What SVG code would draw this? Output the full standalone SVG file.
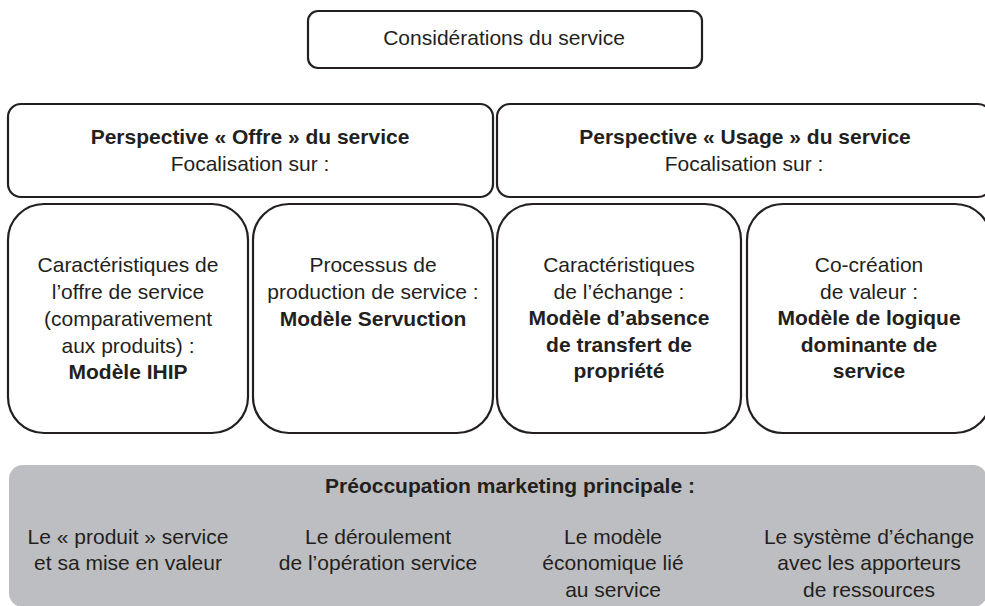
<svg xmlns="http://www.w3.org/2000/svg" width="985" height="606" viewBox="0 0 985 606">
<style>
.box{fill:#ffffff;stroke:#231f20;stroke-width:2.2}
.gray{fill:#bdbec1;stroke:none}
text{font-family:"Liberation Sans",Arial,Helvetica,sans-serif;font-size:21px;fill:#231f20;text-anchor:middle}
.b{font-weight:bold}
</style>
<rect width="985" height="606" fill="#ffffff"/>
<g id="considerations">
<rect class="box" x="308" y="11" width="394" height="57" rx="10"/>
<text x="504" y="45">Considérations du service</text>
</g>
<g id="perspective-offre">
<rect class="box" x="8" y="104" width="485" height="93" rx="13"/>
<text class="b" x="250" y="144">Perspective « Offre » du service</text>
<text x="250" y="171">Focalisation sur :</text>
</g>
<g id="perspective-usage">
<rect class="box" x="497" y="104" width="494" height="93" rx="13"/>
<text class="b" x="745" y="144">Perspective « Usage » du service</text>
<text x="744" y="171">Focalisation sur :</text>
</g>
<g id="modele-ihip">
<rect class="box" x="8" y="204" width="240" height="229" rx="36"/>
<text x="128" y="272">Caractéristiques de</text>
<text x="128" y="299">l’offre de service</text>
<text x="128" y="326">(comparativement</text>
<text x="128" y="353">aux produits) :</text>
<text class="b" x="128" y="379">Modèle IHIP</text>
</g>
<g id="modele-servuction">
<rect class="box" x="253" y="204" width="240" height="229" rx="36"/>
<text x="373" y="272">Processus de</text>
<text x="373" y="299">production de service :</text>
<text class="b" x="373" y="326">Modèle Servuction</text>
</g>
<g id="modele-absence-transfert">
<rect class="box" x="497" y="204" width="244" height="229" rx="36"/>
<text x="619" y="272">Caractéristiques</text>
<text x="619" y="299">de l’échange :</text>
<text class="b" x="619" y="325">Modèle d’absence</text>
<text class="b" x="619" y="352">de transfert de</text>
<text class="b" x="619" y="378">propriété</text>
</g>
<g id="modele-logique-dominante">
<rect class="box" x="747" y="204" width="244" height="229" rx="36"/>
<text x="869" y="272">Co-création</text>
<text x="869" y="299">de valeur :</text>
<text class="b" x="869" y="325">Modèle de logique</text>
<text class="b" x="869" y="352">dominante de</text>
<text class="b" x="869" y="378">service</text>
</g>
<g id="preoccupation-marketing">
<rect class="gray" x="9" y="465" width="978" height="142" rx="14"/>
<text class="b" x="510" y="493">Préoccupation marketing principale :</text>
<text x="128" y="544">Le « produit » service</text>
<text x="128" y="570">et sa mise en valeur</text>
<text x="378" y="544">Le déroulement</text>
<text x="378" y="570">de l’opération service</text>
<text x="613" y="544">Le modèle</text>
<text x="613" y="570">économique lié</text>
<text x="613" y="597">au service</text>
<text x="869" y="544">Le système d’échange</text>
<text x="869" y="570">avec les apporteurs</text>
<text x="869" y="597">de ressources</text>
</g>
<g id="connectors"/>
</svg>
